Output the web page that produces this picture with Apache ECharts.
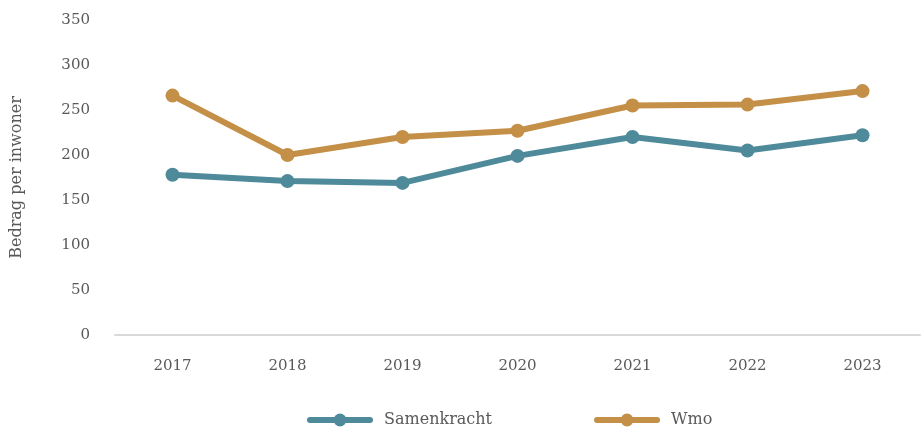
<!DOCTYPE html>
<html>
<head>
<meta charset="utf-8">
<script src="https://cdn.jsdelivr.net/npm/echarts@6/dist/echarts.min.js"></script>
<style>
  html, body { margin: 0; padding: 0; background: #fff; }
  #chart { width: 922px; height: 429px; }
</style>
</head>
<body>
<div id="chart"></div>
<script>
const years = ['2017', '2018', '2019', '2020', '2021', '2022', '2023'];
const samenkracht = [178, 171, 169, 199, 220, 205, 222];
const wmo = [266, 200, 220, 227, 255, 256, 271];

const textColor = '#595959';
const font = 'DejaVu Serif';

let chart = echarts.init(document.getElementById('chart'));

function lineSeries(name, data, color) {
    return {
        name: name,
        type: 'line',
        data: data,
        symbol: 'circle',
        symbolSize: 14,
        lineStyle: { width: 6, color: color },
        itemStyle: { color: color },
        emphasis: { disabled: true }
    };
}

chart.setOption({
    animation: false,
    grid: { left: 115, right: 2, top: 20, bottom: 94 },
    legend: {
        top: 412,
        left: 307,
        padding: 0,
        itemWidth: 60,
        itemHeight: 16,
        itemGap: 102,
        lineStyle: { width: 6, cap: 'round' },
        textStyle: { color: textColor, fontFamily: font, fontSize: 16, padding: [0, 0, 0, 9] },
        data: ['Samenkracht', 'Wmo']
    },
    xAxis: {
        type: 'category',
        data: years,
        axisLine: { lineStyle: { color: '#d9d9d9', width: 2 } },
        axisTick: { show: false },
        axisLabel: { color: textColor, fontFamily: font, fontSize: 15, margin: 24 }
    },
    yAxis: {
        type: 'value',
        min: 0,
        max: 350,
        interval: 50,
        name: 'Bedrag per inwoner',
        nameLocation: 'middle',
        nameGap: 90,
        nameTextStyle: { color: textColor, fontFamily: font, fontSize: 16 },
        axisLine: { show: false },
        axisTick: { show: false },
        splitLine: { show: false },
        axisLabel: { color: textColor, fontFamily: font, fontSize: 15, margin: 25 }
    },
    series: [
        lineSeries('Samenkracht', samenkracht, '#4f8a9a'),
        lineSeries('Wmo', wmo, '#c48f47')
    ]
});
</script>
</body>
</html>
